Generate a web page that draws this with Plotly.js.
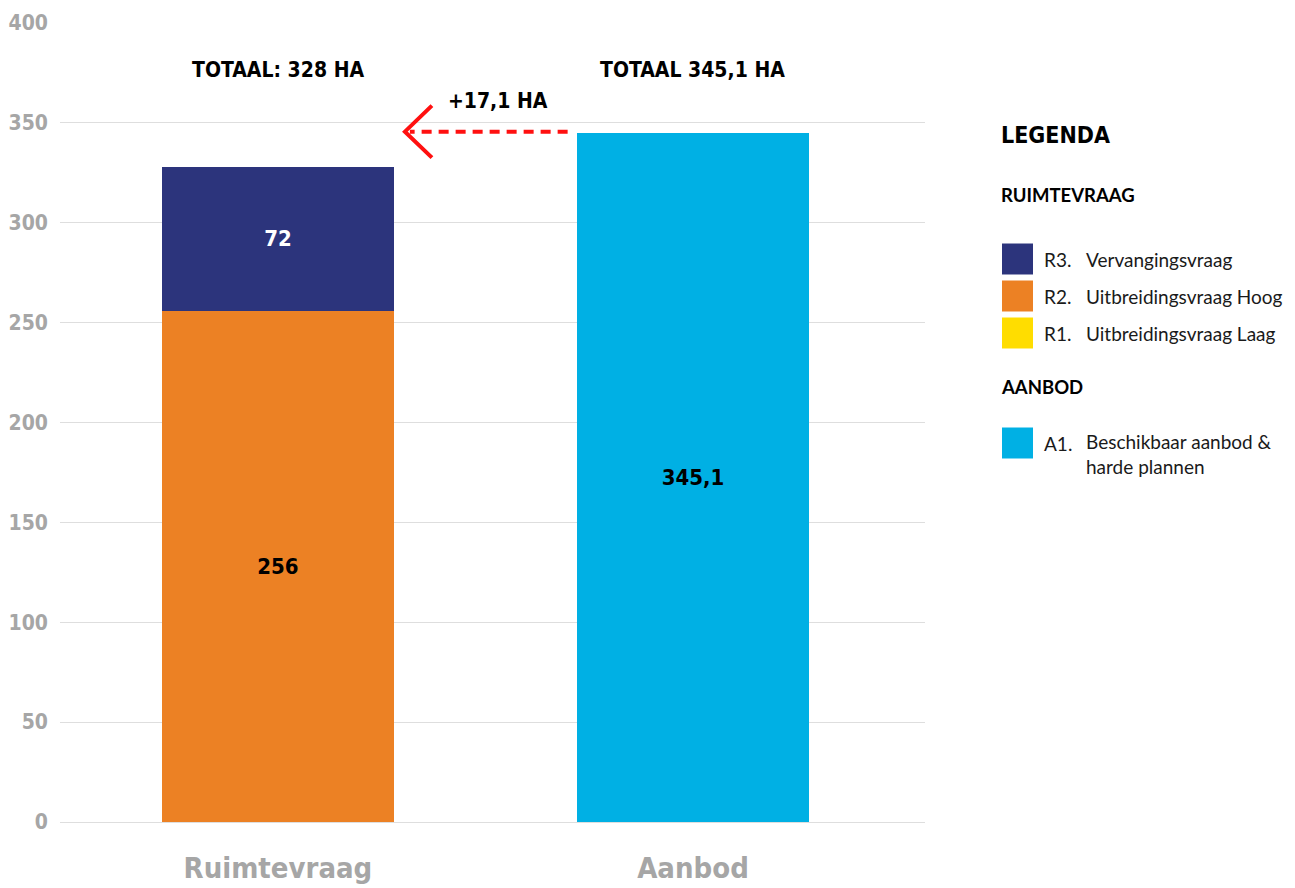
<!DOCTYPE html>
<html>
<head>
<meta charset="utf-8">
<script src="https://cdn.plot.ly/plotly-3.0.1.min.js"></script>
<style>
html,body{margin:0;padding:0;background:#fff;}
#chart{width:1295px;height:888px;}
</style>
</head>
<body>
<div id="chart"></div>
<script>
// ---- data ----
var categories = ['Ruimtevraag', 'Aanbod'];
var r1Laag = [0, null];
var r2Hoog = [256, null];
var r3Vervanging = [72, null];
var a1Aanbod = [null, 345.1];
var totalLabels = ['TOTAAL: 328 HA', 'TOTAAL 345,1 HA'];
var totals = [328, 345.1];
var diffLabel = '+17,1 HA';
var legendItems = [
  {code: 'R3.', name: 'Vervangingsvraag', color: '#2c347c'},
  {code: 'R2.', name: 'Uitbreidingsvraag Hoog', color: '#ec8124'},
  {code: 'R1.', name: 'Uitbreidingsvraag Laag', color: '#ffdd00'},
  {code: 'A1.', name: 'Beschikbaar aanbod &<br>harde plannen', color: '#00b0e4'}
];

var COND = 'Liberation Sans Narrow, DejaVu Sans Condensed, Arial Narrow, sans-serif';
var REG = 'Lato, Noto Sans, sans-serif';
var BW = 0.559;

function barTrace(name, y, color, txtColor) {
  return {
    type: 'bar', name: name, x: categories, y: y, width: BW,
    marker: {color: color, line: {width: 0}},
    texttemplate: '<b>%{y}</b>', textposition: 'inside', insidetextanchor: 'middle',
    textangle: 0, constraintext: 'none',
    textfont: {family: COND, size: 22, color: txtColor},
    hoverinfo: 'x+y', showlegend: false, cliponaxis: false
  };
}

var traces = [
  Object.assign(barTrace('R1. Uitbreidingsvraag Laag', r1Laag, legendItems[2].color, '#000'), {texttemplate: ''}),
  barTrace('R2. Uitbreidingsvraag Hoog', r2Hoog, legendItems[1].color, '#000'),
  barTrace('R3. Vervangingsvraag', r3Vervanging, legendItems[0].color, '#fff'),
  barTrace('A1. Beschikbaar aanbod & harde plannen', a1Aanbod, legendItems[3].color, '#000')
];

// helpers for paper coordinates of the legend (plot area: x 60..925, y 23..822)
function px(x) { return (x - 60) / 865; }
function py(y) { return (822 - y) / 799; }

var annotations = [];
var shapes = [];

// totals above bars
categories.forEach(function (c, i) {
  annotations.push({
    x: c, y: py(70), yref: 'paper', xref: 'x',
    text: '<b>' + totalLabels[i] + '</b>', showarrow: false,
    font: {family: COND, size: 21, color: '#000'},
    xanchor: 'center', yanchor: 'middle'
  });
});

// difference label
annotations.push({
  x: 0.53, xref: 'x', y: py(101), yref: 'paper', text: '<b>' + diffLabel + '</b>',
  showarrow: false, font: {family: COND, size: 21, color: '#000'},
  xanchor: 'center', yanchor: 'middle'
});

// dashed red arrow from Aanbod total back to Ruimtevraag
shapes.push({
  type: 'line', xref: 'x', yref: 'y', x0: 0.698, x1: 0.318, y0: totals[1] + 0.5, y1: totals[1] + 0.5,
  line: {color: '#ff1010', width: 4, dash: '10px,7px'}
});
shapes.push({
  type: 'path', xref: 'x', yref: 'y', xsizemode: 'pixel', ysizemode: 'pixel',
  xanchor: 0.306, yanchor: totals[1] + 0.5,
  path: 'M 27 26 L 0 0 L 27 -26',
  line: {color: '#ff1010', width: 4}
});

// legend block
var LX = 999;
annotations.push({x: px(LX), y: py(135), xref: 'paper', yref: 'paper', text: '<b>LEGENDA</b>',
  showarrow: false, xanchor: 'left', yanchor: 'middle', font: {family: COND, size: 23, color: '#000'}});
annotations.push({x: px(LX), y: py(195), xref: 'paper', yref: 'paper', text: '<b>RUIMTEVRAAG</b>',
  showarrow: false, xanchor: 'left', yanchor: 'middle', font: {family: REG, size: 18.5, color: '#000'}});
annotations.push({x: px(LX), y: py(387), xref: 'paper', yref: 'paper', text: '<b>AANBOD</b>',
  showarrow: false, xanchor: 'left', yanchor: 'middle', font: {family: REG, size: 18.5, color: '#000'}});

var rowY = [259, 296, 333, 443];
legendItems.forEach(function (it, i) {
  var cy = rowY[i];
  shapes.push({type: 'rect', xref: 'paper', yref: 'paper',
    x0: px(1002), x1: px(1033), y0: py(cy + 15.5), y1: py(cy - 15.5),
    fillcolor: it.color, line: {width: 0}});
  annotations.push({x: px(1042), y: py(cy), xref: 'paper', yref: 'paper', text: it.code,
    showarrow: false, xanchor: 'left', yanchor: 'middle', font: {family: REG, size: 19, color: '#1a1a1a'}});
  var multi = it.name.indexOf('<br>') >= 0;
  annotations.push({x: px(1084), y: multi ? py(cy - 15) : py(cy), xref: 'paper', yref: 'paper', text: it.name,
    showarrow: false, xanchor: 'left', yanchor: multi ? 'top' : 'middle', align: 'left',
    font: {family: REG, size: 19, color: '#1a1a1a'}});
});

var layout = {
  width: 1295, height: 888,
  margin: {l: 60, r: 370, t: 23, b: 66, pad: 0},
  paper_bgcolor: '#fff', plot_bgcolor: '#fff',
  barmode: 'stack',
  separators: ',.',
  showlegend: false,
  xaxis: {
    type: 'category', range: [-0.525, 1.559], showgrid: false, zeroline: false, showline: false,
    ticks: '', ticklabelstandoff: 26,
    tickfont: {family: COND, size: 29, color: '#a6a6a6', weight: 'bold'},
    fixedrange: true
  },
  yaxis: {
    range: [0, 400], dtick: 50, tick0: 0, showgrid: true, gridcolor: '#dedede', gridwidth: 1,
    zeroline: true, zerolinecolor: '#dedede', zerolinewidth: 1, showline: false, ticks: '',
    ticklabelstandoff: 11,
    tickfont: {family: COND, size: 21, color: '#a6a6a6', weight: 'bold'},
    fixedrange: true
  },
  annotations: annotations,
  shapes: shapes
};

Plotly.newPlot('chart', traces, layout, {displayModeBar: false, staticPlot: true});
</script>
</body>
</html>
